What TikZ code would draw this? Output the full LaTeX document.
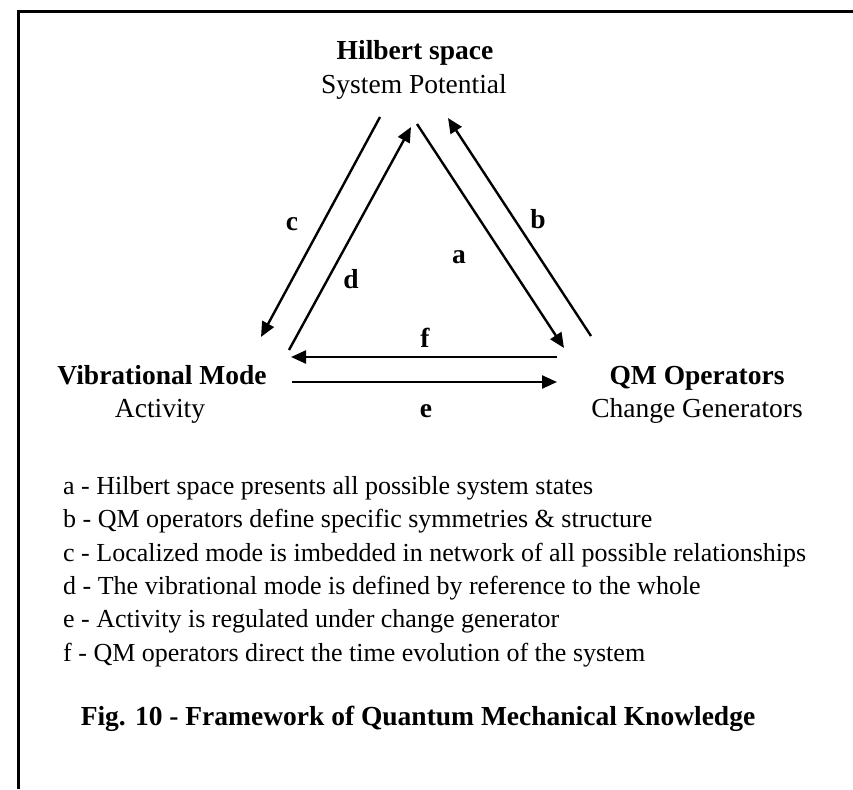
\documentclass[tikz,border=0pt]{standalone}
\usepackage{fontspec}
\setmainfont{Liberation Serif}
\usetikzlibrary{arrows.meta}
\tikzset{
  title/.style={font=\fontsize{27.5}{33}\selectfont\bfseries, anchor=base, inner sep=0pt},
  subtitle/.style={font=\fontsize{27.5}{33}\selectfont, anchor=base, inner sep=0pt},
  edgelabel/.style={font=\fontsize{27.5}{33}\selectfont\bfseries, inner sep=0pt},
  listline/.style={font=\fontsize{26}{33}\selectfont, anchor=base west, inner sep=0pt},
  link/.style={line width=2.4pt, -{Triangle[length=15pt,width=13pt]}},
  frame/.style={line width=3pt}
}
\begin{document}
\begin{tikzpicture}[x=1pt, y=-1pt]
  \useasboundingbox (0,0) rectangle (853,789);
  % frame (open to the right and bottom)
  \draw[frame] (18,789) -- (18,12) -- (853,12);

  % vertex labels
  \node[title]    (hs)  at (415,60)  {Hilbert space};
  \node[subtitle] (sp)  at (414,94)  {System Potential};
  \node[title]    (vm)  at (162,384) {Vibrational Mode};
  \node[subtitle] (act) at (160,417) {Activity};
  \node[title]    (qm)  at (697,384) {QM Operators};
  \node[subtitle] (cg)  at (697,417) {Change Generators};

  % arrow end points
  \coordinate (c1) at (380,117); \coordinate (c2) at (261,337);
  \coordinate (d1) at (289,350); \coordinate (d2) at (411,127);
  \coordinate (a1) at (417,124); \coordinate (a2) at (564,348);
  \coordinate (b1) at (591,336); \coordinate (b2) at (448,118);
  \coordinate (f1) at (557,357); \coordinate (f2) at (291,357);
  \coordinate (e1) at (292,382); \coordinate (e2) at (557,382);

  \draw[link] (c1) -- (c2);
  \draw[link] (d1) -- (d2);
  \draw[link] (a1) -- (a2);
  \draw[link] (b1) -- (b2);
  \draw[link] (f1) -- (f2);
  \draw[link] (e1) -- (e2);

  % arrow letters
  \node[edgelabel] (lc) at (292,224) {c};
  \node[edgelabel] (lb) at (538,219) {b};
  \node[edgelabel] (la) at (459,257) {a};
  \node[edgelabel] (ld) at (351,279) {d};
  \node[edgelabel] (lf) at (425,338) {f};
  \node[edgelabel] (le) at (426,411) {e};

  % legend
  \node[listline] (ta) at (63,494) {a - Hilbert space presents all possible system states};
  \node[listline] (tb) at (63,527) {b - QM operators define specific symmetries \& structure};
  \node[listline] (tc) at (63,561) {c - Localized mode is imbedded in network of all possible relationships};
  \node[listline] (td) at (63,594) {d - The vibrational mode is defined by reference to the whole};
  \node[listline] (te) at (63,627) {e - Activity is regulated under change generator};
  \node[listline] (tf) at (63,661) {f - QM operators direct the time evolution of the system};

  \node[title] (cap) at (418,725) {Fig. 10 - Framework of Quantum Mechanical Knowledge};
\end{tikzpicture}
\end{document}
